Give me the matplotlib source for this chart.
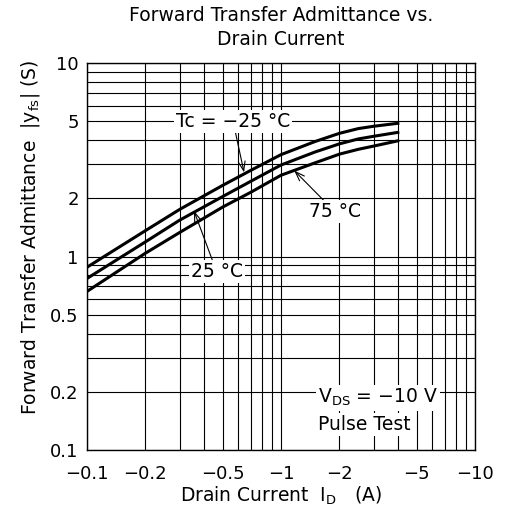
import matplotlib.pyplot as plt
from matplotlib.ticker import FixedLocator, NullFormatter, NullLocator

plt.rcParams['font.family'] = ['DejaVu Sans']
plt.rcParams['mathtext.fontset'] = 'dejavusans'

# Drain current magnitude (A), real values are negative
corriente = [0.1, 0.2, 0.3, 0.5, 0.7, 1.0, 1.5, 2.0, 2.5, 3.0, 4.0]
# |yfs| (S) per case temperature
yfs_m25 = [0.88, 1.36, 1.75, 2.33, 2.79, 3.36, 3.93, 4.33, 4.58, 4.71, 4.88]
yfs_25 = [0.77, 1.19, 1.54, 2.04, 2.45, 2.97, 3.47, 3.82, 4.05, 4.18, 4.38]
yfs_75 = [0.66, 1.04, 1.33, 1.80, 2.15, 2.63, 3.05, 3.38, 3.58, 3.72, 3.96]

xticks = [0.1, 0.2, 0.5, 1, 2, 5, 10]
xtick_labels = ['\u22120.1', '\u22120.2', '\u22120.5', '\u22121', '\u22122', '\u22125', '\u221210']
yticks = [0.1, 0.2, 0.5, 1, 2, 5, 10]
ytick_labels = ['0.1', '0.2', '0.5', '1', '2', '5', '10']

fig = plt.figure(figsize=(5.07, 5.14), dpi=100)
ax = fig.add_axes([87/507, 64/514, 388/507, 387/514])

for serie in [yfs_m25, yfs_25, yfs_75]:
    ax.plot(corriente, serie, color='black', lw=2.2, zorder=3,
            solid_joinstyle='round')

ax.set_xscale('log')
ax.set_yscale('log')
ax.set_xlim(0.1, 10)
ax.set_ylim(0.1, 10)

# grid at every 1..9 position of each decade
grid_pos = [m * 10.0**e for e in (-1, 0) for m in range(1, 10)] + [10]
for g in grid_pos:
    ax.axvline(g, color='black', lw=0.8, zorder=1)
    ax.axhline(g, color='black', lw=0.8, zorder=1)

ax.xaxis.set_major_locator(FixedLocator(xticks))
ax.set_xticklabels(xtick_labels)
ax.yaxis.set_major_locator(FixedLocator(yticks))
ax.set_yticklabels(ytick_labels)
ax.xaxis.set_minor_locator(NullLocator())
ax.yaxis.set_minor_locator(NullLocator())
ax.xaxis.set_minor_formatter(NullFormatter())
ax.yaxis.set_minor_formatter(NullFormatter())
ax.tick_params(length=0, labelsize=13)
ax.tick_params(axis='x', pad=11)
ax.tick_params(axis='y', pad=6)
for s in ax.spines.values():
    s.set_linewidth(1.0)

caja = dict(facecolor='white', edgecolor='none', pad=1.5)
flecha = dict(arrowstyle='->,head_length=0.5,head_width=0.18', color='black',
              lw=0.8, shrinkA=0, shrinkB=0)

ax.annotate('Tc = \u221225 \u00b0C', xy=(0.645, 2.72), xytext=(0.566, 5.0),
            ha='center', va='center', fontsize=13.5, bbox=caja, arrowprops=flecha, zorder=4)
ax.annotate('75 \u00b0C', xy=(1.17, 2.78), xytext=(1.90, 1.70),
            ha='center', va='center', fontsize=13.5, bbox=caja, arrowprops=flecha, zorder=4)
ax.annotate('25 \u00b0C', xy=(0.356, 1.72), xytext=(0.466, 0.834),
            ha='center', va='center', fontsize=13.5, bbox=caja, arrowprops=flecha, zorder=4)

ax.text(1.55, 0.186, 'V$_{\\mathrm{DS}}$ = \u221210 V', ha='left', va='center',
        fontsize=13.5, bbox=caja, zorder=4)
ax.text(1.55, 0.135, 'Pulse Test', ha='left', va='center',
        fontsize=13.5, bbox=caja, zorder=4)

ax.set_title('Forward Transfer Admittance vs.\nDrain Current', fontsize=13.5, pad=13,
             linespacing=1.3)
ax.set_xlabel('Drain Current  I$_{\\mathrm{D}}$   (A)', fontsize=13.5, labelpad=1)
ax.set_ylabel('Forward Transfer Admittance  |y$_{\\mathrm{fs}}$| (S)', fontsize=13.5)
ax.yaxis.set_label_coords(-0.115, 0.55)

fig.savefig('out.png', dpi=100)
